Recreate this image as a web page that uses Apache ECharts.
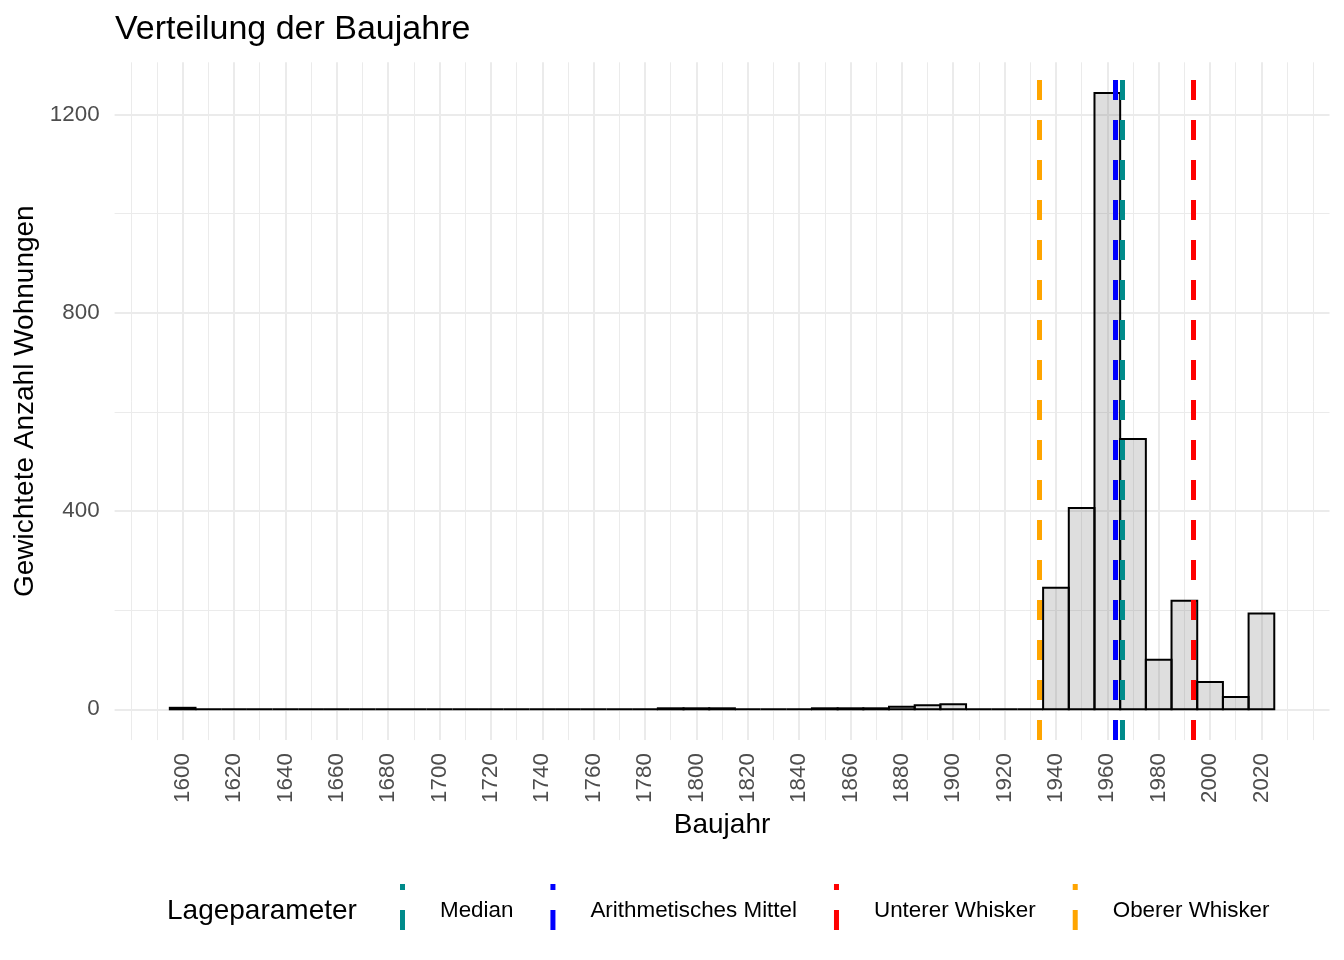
<!DOCTYPE html>
<html>
<head>
<meta charset="utf-8">
<title>Verteilung der Baujahre</title>
<script src="https://cdn.jsdelivr.net/npm/echarts@6/dist/echarts.min.js"></script>
<style>
  html, body { margin: 0; padding: 0; background: #ffffff; }
  #chart { width: 1344px; height: 960px; }
</style>
</head>
<body>
<div id="chart"></div>
<script>
// Histogramm: Klassenmitten (Breite 10 Jahre) und gewichtete Anzahl
var binCenters = [1600, 1610, 1620, 1630, 1640, 1650, 1660, 1670, 1680, 1690,
                  1700, 1710, 1720, 1730, 1740, 1750, 1760, 1770, 1780, 1790,
                  1800, 1810, 1820, 1830, 1840, 1850, 1860, 1870, 1880, 1890,
                  1900, 1910, 1920, 1930, 1940, 1950, 1960, 1970, 1980, 1990,
                  2000, 2010, 2020];
var binCounts = [3, 0, 0, 0, 0, 0, 0, 0, 0, 0,
                 0, 0, 0, 0, 0, 0, 0, 0, 0, 2,
                 2, 2, 0, 0, 0, 2, 2, 2, 5, 8,
                 10, 0, 0, 0, 245, 406, 1243, 545, 100, 219,
                 55, 25, 193];

// Lageparameter (senkrechte Linien)
var paramNames  = ['Median', 'Arithmetisches Mittel', 'Unterer Whisker', 'Oberer Whisker'];
var paramValues = [1965.9, 1963.2, 1993.4, 1933.6];
var paramColors = ['#008B8B', '#0000FF', '#FF0000', '#FFA500'];

// Achsenbeschriftungen
var xMajorTicks = [1600, 1620, 1640, 1660, 1680, 1700, 1720, 1740, 1760, 1780, 1800,
                   1820, 1840, 1860, 1880, 1900, 1920, 1940, 1960, 1980, 2000, 2020];
var xMinorTicks = [1580, 1590, 1610, 1630, 1650, 1670, 1690, 1710, 1730, 1750, 1770,
                   1790, 1810, 1830, 1850, 1870, 1890, 1910, 1930, 1950, 1970, 1990,
                   2010, 2030, 2040];
var yMajorTicks = [0, 400, 800, 1200];
var yMinorTicks = [200, 600, 1000];

var binWidth = 10;
var font = "'Liberation Sans', Arial, sans-serif";

// Achsenbereich wie ggplot: 5 % Erweiterung
var xLo = binCenters[0] - binWidth / 2, xHi = binCenters[binCenters.length - 1] + binWidth / 2;
var yHi = Math.max.apply(null, binCounts);
var xMin = xLo - 0.05 * (xHi - xLo), xMax = xHi + 0.05 * (xHi - xLo);
var yMin = -0.05 * yHi, yMax = yHi * 1.05;

var histData = binCenters.map(function (c, i) { return [c, binCounts[i]]; });

var chart = echarts.init(document.getElementById('chart'));

var gridLine = function (w) { return { show: true, lineStyle: { color: '#ebebeb', width: w } }; };
var plain = function (v) { return String(v); };

var vlineSeries = paramNames.map(function (name, i) {
    return {
        name: name,
        type: 'scatter',
        data: [],
        z: 5,
        itemStyle: { color: paramColors[i], opacity: 1 },
        markLine: {
            silent: true,
            symbol: 'none',
            label: { show: false },
            animation: false,
            lineStyle: { color: paramColors[i], width: 5, type: [20, 20], opacity: 1 },
            data: [{ xAxis: paramValues[i] }]
        }
    };
});

var option = {
    animation: false,
    backgroundColor: '#ffffff',
    textStyle: { fontFamily: font },
    title: [{
        text: 'Verteilung der Baujahre',
        left: 115,
        top: 13,
        padding: 0,
        textStyle: { fontFamily: font, fontSize: 34, fontWeight: 'normal', color: '#000000' }
    }, {
        text: 'Lageparameter',
        left: 167,
        top: 897,
        padding: 0,
        textStyle: { fontFamily: font, fontSize: 28, fontWeight: 'normal', color: '#000000' }
    }],
    legend: {
        data: paramNames.map(function (n) {
            return { name: n, icon: 'path://M0,0H5V6H0Z M0,26H5V46H0Z', itemStyle: { opacity: 1 } };
        }),
        left: 400,
        top: 884,
        padding: 0,
        itemWidth: 5,
        itemHeight: 46,
        itemGap: 37,
        selectedMode: false,
        formatter: function (n) { return '{t|' + n + '}'; },
        textStyle: {
            fontFamily: font, fontSize: 22.4, color: '#000000', padding: [0, 0, 0, 30],
            rich: {
                t: { fontFamily: font, fontSize: 22.4, color: '#000000', lineHeight: 30, verticalAlign: 'bottom' }
            }
        }
    },
    grid: { left: 114.6, right: 14.5, top: 62.3, bottom: 219.9, containLabel: false },
    xAxis: [{
        type: 'value',
        min: xMin,
        max: xMax,
        name: 'Baujahr',
        nameLocation: 'middle',
        nameGap: 67,
        nameTextStyle: { fontFamily: font, fontSize: 28, color: '#000000' },
        axisLine: { show: false },
        axisTick: { show: false, customValues: xMajorTicks },
        axisLabel: {
            customValues: xMajorTicks,
            formatter: plain,
            rotate: 90,
            margin: 13,
            fontFamily: font,
            fontSize: 22.4,
            color: '#4d4d4d'
        },
        splitLine: gridLine(2)
    }, {
        type: 'value',
        min: xMin,
        max: xMax,
        position: 'top',
        axisLine: { show: false },
        axisTick: { show: false, customValues: xMinorTicks },
        axisLabel: { show: false },
        splitLine: gridLine(1)
    }],
    yAxis: [{
        type: 'value',
        min: yMin,
        max: yMax,
        name: 'Gewichtete Anzahl Wohnungen',
        nameLocation: 'middle',
        nameRotate: 90,
        nameGap: 69,
        nameTextStyle: { fontFamily: font, fontSize: 28, color: '#000000' },
        axisLine: { show: false },
        axisTick: { show: false, customValues: yMajorTicks },
        axisLabel: {
            customValues: yMajorTicks,
            formatter: plain,
            margin: 15,
            fontFamily: font,
            fontSize: 22.4,
            color: '#4d4d4d'
        },
        splitLine: gridLine(2)
    }, {
        type: 'value',
        min: yMin,
        max: yMax,
        position: 'right',
        axisLine: { show: false },
        axisTick: { show: false, customValues: yMinorTicks },
        axisLabel: { show: false },
        splitLine: gridLine(1)
    }],
    series: [{
        name: 'Baujahre',
        type: 'custom',
        z: 2,
        data: histData,
        renderItem: function (params, api) {
            var c = api.value(0), v = api.value(1);
            var p0 = api.coord([c - binWidth / 2, v]);
            var p1 = api.coord([c + binWidth / 2, 0]);
            return {
                type: 'rect',
                shape: { x: p0[0], y: p0[1], width: p1[0] - p0[0], height: p1[1] - p0[1] },
                style: { fill: 'rgba(89,89,89,0.2)', stroke: '#000000', lineWidth: 2 }
            };
        }
    }].concat(vlineSeries)
};

chart.setOption(option);
</script>
</body>
</html>
